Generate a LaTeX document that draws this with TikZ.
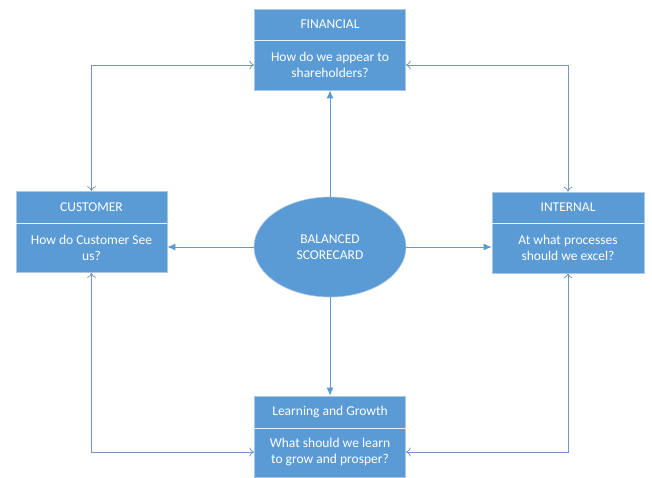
\documentclass[tikz,border=0pt]{standalone}
\usepackage{fontspec}
\setmainfont{Carlito}
\usetikzlibrary{shapes.geometric,arrows.meta}
\definecolor{boxblue}{RGB}{91,155,213}
\definecolor{edgeblue}{RGB}{170,200,230}
\definecolor{linkblue}{RGB}{91,155,213}
\definecolor{sidegrey}{RGB}{120,150,190}
\begin{document}
\begin{tikzpicture}[x=1pt,y=-1pt,
  card/.style={rectangle, fill=boxblue, draw=edgeblue, line width=0.6pt, minimum width=151pt, minimum height=81pt, inner sep=0pt},
  divider/.style={draw=white!85!boxblue, line width=0.8pt},
  head/.style={text=white, font=\fontsize{13.5}{15}\selectfont, inner sep=0pt},
  body/.style={text=white, font=\fontsize{13.5}{16.5}\selectfont, align=center, inner sep=0pt},
  hub/.style={ellipse, fill=boxblue, draw=edgeblue, line width=0.6pt, minimum width=152pt, minimum height=100pt, inner sep=0pt, text=white, font=\fontsize{13.5}{16.5}\selectfont, align=center},
  spoke/.style={draw=linkblue, line width=1pt, -{Latex[length=8pt,width=7pt]}},
  loop/.style={draw=sidegrey, line width=0.8pt, {To[length=5pt,width=9pt]}-{To[length=5pt,width=9pt]}}
]
\useasboundingbox (0,0) rectangle (652,477);

% boxes
\node[card] (fin) at (330,49.5) {};
\node[card] (cus) at (91.5,232) {};
\node[card, minimum width=152pt] (int) at (568,232.5) {};
\node[card] (lrn) at (330,436.5) {};

% dividers
\draw[divider] (fin.west |- 0,40) -- (fin.east |- 0,40);
\draw[divider] (cus.west |- 0,223) -- (cus.east |- 0,223);
\draw[divider] (int.west |- 0,223) -- (int.east |- 0,223);
\draw[divider] (lrn.west |- 0,428) -- (lrn.east |- 0,428);

% texts
\node[head] (finh) at (330,24) {FINANCIAL};
\node[body] (finb) at (330,65) {How do we appear to\\shareholders?};
\node[head] (cush) at (91.5,207) {CUSTOMER};
\node[body] (cusb) at (91.5,248) {How do Customer See\\us?};
\node[head] (inth) at (568,207) {INTERNAL};
\node[body] (intb) at (568,248) {At what processes\\should we excel?};
\node[head] (lrnh) at (330,412) {Learning and Growth};
\node[body] (lrnb) at (330,452) {What should we learn\\to grow and prosper?};

% hub
\node[hub] (bs) at (330,247) {BALANCED\\SCORECARD};

% spokes
\draw[spoke] (bs.north) -- (fin.south);
\draw[spoke] (bs.south) -- (lrn.north);
\draw[spoke] (bs.west) -- (cus.east |- bs.west);
\draw[spoke] (bs.east) -- (int.west |- bs.east);

% outer loops
\draw[loop] (cus.north) |- (fin.west |- finb);
\draw[loop] (int.north) |- (fin.east |- finb);
\draw[loop] (cus.south) |- (lrn.west |- lrnb);
\draw[loop] (int.south) |- (lrn.east |- lrnb);
\end{tikzpicture}
\end{document}
